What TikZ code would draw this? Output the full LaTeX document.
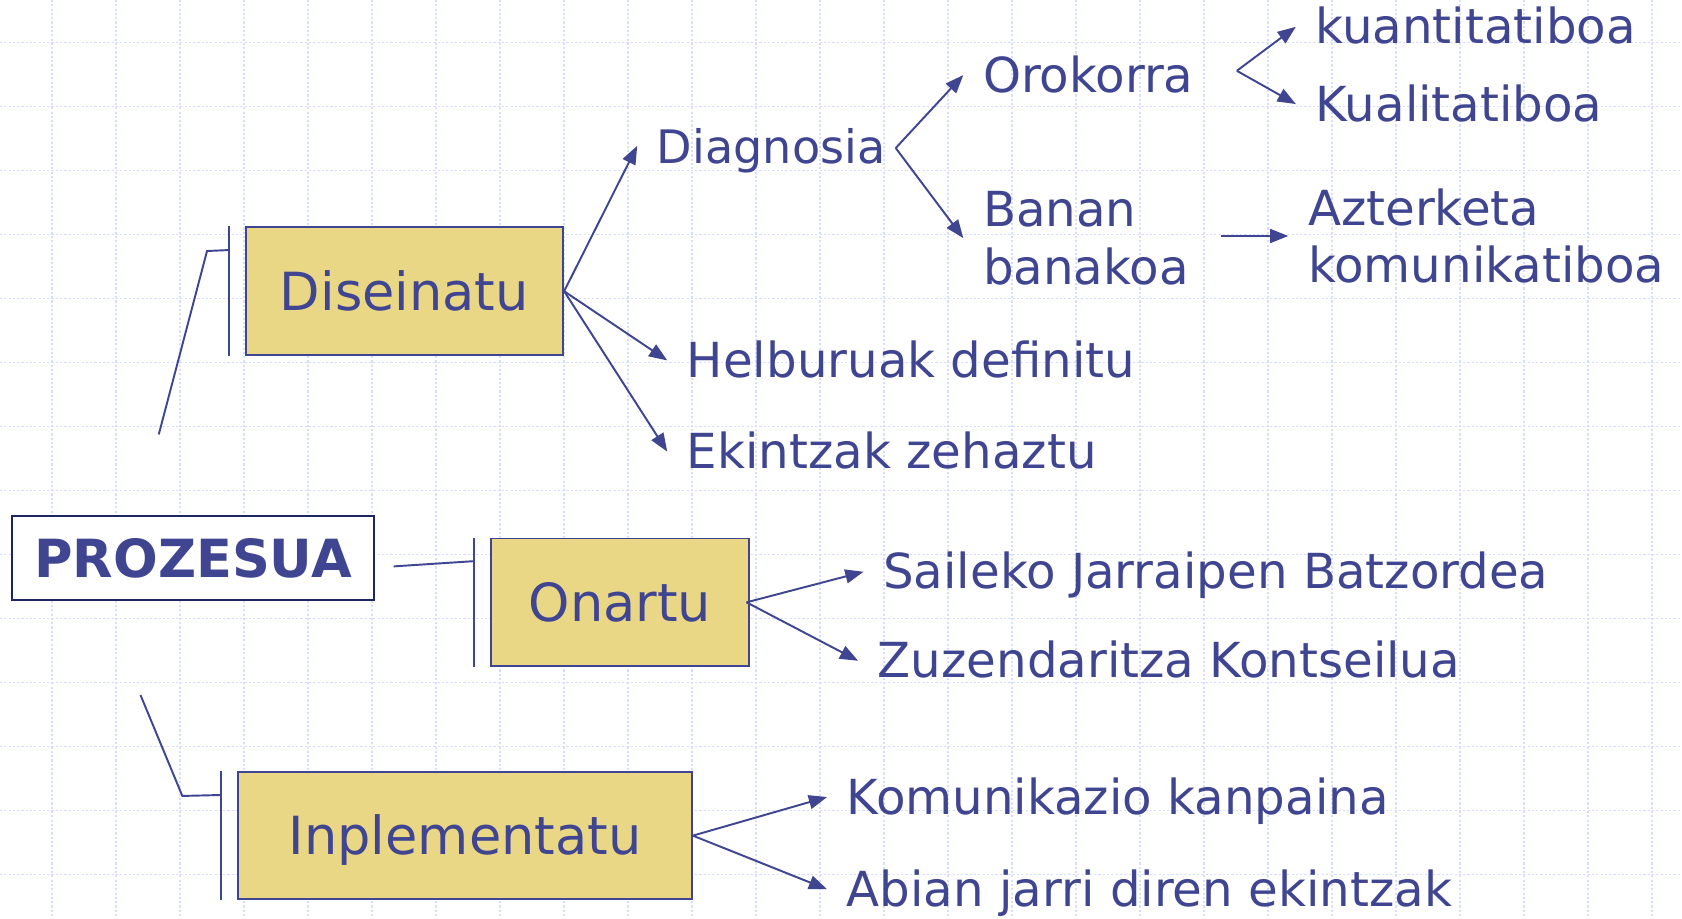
\documentclass[tikz,border=0pt]{standalone}
\usepackage{fontspec}
\setmainfont{DejaVu Sans}
\usetikzlibrary{arrows.meta}

\definecolor{inkblue}{RGB}{63,69,145}
\definecolor{navyline}{RGB}{30,38,96}
\definecolor{boxsand}{RGB}{234,215,133}
\definecolor{gridblue}{RGB}{212,222,255}

\tikzset{
    gridline/.style={gridblue, line width=0.6pt, dash pattern=on 1pt off 1pt},
    stage/.style={draw=inkblue, fill=boxsand, line width=0.9pt, inner sep=0pt,
        text=inkblue, font=\fontsize{24.5}{29}\selectfont, text height=17.9pt, text depth=0pt},
    item/.style={anchor=west, inner xsep=9pt, inner ysep=0pt, text=inkblue,
        font=\fontsize{22.5}{27}\selectfont, text height=16pt, text depth=0pt},
    twoline/.style={anchor=west, inner xsep=9pt, inner ysep=0pt, text=inkblue,
        font=\fontsize{22.5}{27}\selectfont, align=left},
    arr/.style={inkblue, line width=0.9pt, -{Triangle[length=8.5pt,width=6.5pt]}},
    link/.style={inkblue, line width=0.9pt}
}

\begin{document}
\begin{tikzpicture}[x=0.5pt, y=-0.5pt]
    \fill[white] (0,0) rectangle (1568,856);
    \useasboundingbox (0,0) rectangle (1568,856);

    \foreach \i in {0,...,25}
        \draw[gridline] (48.5+59.66*\i, 0) -- (48.5+59.66*\i, 856);
    \foreach \j in {0,...,14}
        \draw[gridline] (0, 39.8+59.66*\j) -- (1568, 39.8+59.66*\j);

    \node[stage, draw=navyline, fill=white, minimum width=169pt, minimum height=39pt,
        font=\bfseries\fontsize{24.5}{29}\selectfont] (pro) at (180, 520) {PROZESUA};
    \node[stage, minimum width=148pt, minimum height=59.5pt] (dis) at (377, 271.5) {Diseinatu};
    \node[stage, minimum width=120pt, minimum height=59.5pt] (ona) at (578, 561.5) {Onartu};
    \node[stage, minimum width=211.5pt, minimum height=59pt] (imp) at (433.5, 779) {Inplementatu};

    \node[item, font=\fontsize{21.5}{27}\selectfont] (diag) at (594, 136) {Diagnosia};
    \node[item] (helb) at (622, 336) {Helburuak definitu};
    \node[item] (ekin) at (622, 421) {Ekintzak zehaztu};
    \node[item] (orok) at (898, 70) {Orokorra};
    \node[twoline] (banan) at (898, 222) {Banan\\banakoa};
    \node[item] (kuan) at (1208, 25) {kuantitatiboa};
    \node[item] (kual) at (1208, 97) {Kualitatiboa};
    \node[twoline] (azter) at (1201, 220) {Azterketa\\komunikatiboa};
    \node[item] (sail) at (805, 533) {Saileko Jarraipen Batzordea};
    \node[item] (zuz) at (800, 616) {Zuzendaritza Kontseilua};
    \node[item] (komu) at (771, 743) {Komunikazio kanpaina};
    \node[item] (abian) at (771, 829) {Abian jarri diren ekintzak};

    \coordinate (prodis) at (148, 405);
    \coordinate (proimp) at (131, 648);
    \coordinate (diagfork) at (835, 138);
    \coordinate (orokfork) at (1153, 66);
    \coordinate (bananout) at (1138, 220);

    \draw[link] ([xshift=-7.5pt]dis.north west) -- ([xshift=-7.5pt]dis.south west);
    \draw[link] ([xshift=-7.5pt]ona.north west) -- ([xshift=-7.5pt]ona.south west);
    \draw[link] ([xshift=-7.5pt]imp.north west) -- ([xshift=-7.5pt]imp.south west);

    \draw[link] (prodis) -- (193, 234) -- ([xshift=-7.5pt, yshift=-11pt]dis.north west);
    \draw[link] ([xshift=8.5pt, yshift=-4pt]pro.east) -- ([xshift=-7.5pt, yshift=-11pt]ona.north west);
    \draw[link] (proimp) -- (170, 742) -- ([xshift=-7.5pt, yshift=-11pt]imp.north west);

    \draw[arr] (dis.east) -- (diag.west);
    \draw[arr] (dis.east) -- (helb.west);
    \draw[arr] (dis.east) -- (ekin.west);
    \draw[arr] (diagfork) -- (orok.west);
    \draw[arr] (diagfork) -- (banan.west);
    \draw[arr] (orokfork) -- (kuan.west);
    \draw[arr] (orokfork) -- (kual.west);
    \draw[arr] (bananout) -- (azter.west);
    \draw[arr] ([xshift=-1.5pt]ona.east) -- (sail.west);
    \draw[arr] ([xshift=-1.5pt]ona.east) -- (zuz.west);
    \draw[arr] (imp.east) -- (komu.west);
    \draw[arr] (imp.east) -- (abian.west);
\end{tikzpicture}
\end{document}
